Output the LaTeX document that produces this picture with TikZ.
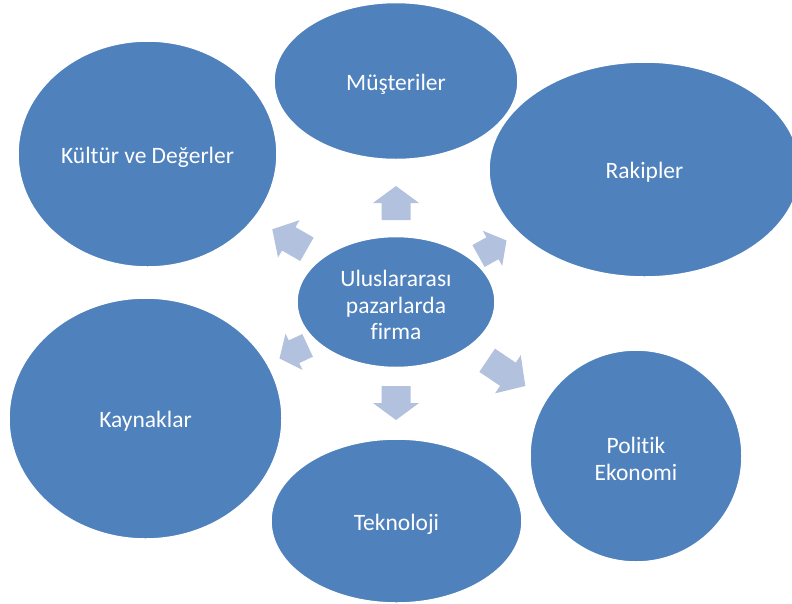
\documentclass[tikz,border=0pt]{standalone}
\usepackage{fontspec}
\setmainfont{Carlito}[Ligatures=NoCommon]
\definecolor{ovalblue}{HTML}{4F81BD}
\definecolor{arrowblue}{HTML}{B2C1DD}
\newcommand{\blockarrow}[7]{%
  % #1 name, #2 tip, #3 angle, #4 length, #5 head width, #6 shaft width, #7 head length
  \begin{scope}[shift={#2}, rotate=#3]
    \fill[arrowblue] (0,0) -- (-#7,#5/2) -- (-#7,#6/2) -- (-#4,#6/2)
      -- (-#4,-#6/2) -- (-#7,-#6/2) -- (-#7,-#5/2) -- cycle;
    \coordinate (#1) at (-#4/2,0);
  \end{scope}}
\usetikzlibrary{shapes.geometric}
\tikzset{
  ovaltext/.style={text=white, align=center, inner sep=0pt, yshift=-3pt,
    font=\fontsize{23.5}{26.3}\selectfont},
  oval/.style={ellipse, fill=ovalblue, draw=white, line width=1.5pt,
    inner sep=0pt, label={[ovaltext]center:#1}},
}
\begin{document}
\begin{tikzpicture}[x=1pt, y=-1pt]
\useasboundingbox (0,0) rectangle (792,603);
\fill[white] (0,0) rectangle (792,603);
% outer ovals
\node[oval={Müşteriler}, minimum width=244pt, minimum height=157pt] (mus) at (396,81) {};
\node[oval={Rakipler}, minimum width=311pt, minimum height=215pt] (rak) at (644.5,169.5) {};
\node[oval={Politik\\Ekonomi}, minimum width=212pt, minimum height=212pt] (pol) at (636,456) {};
\node[oval={Teknoloji}, minimum width=251pt, minimum height=164pt] (tek) at (396.5,521) {};
\node[oval={Kaynaklar}, minimum width=273pt, minimum height=241pt] (kay) at (145.5,418.5) {};
\node[oval={Kültür ve Değerler}, minimum width=259pt, minimum height=226pt] (kul) at (147.5,154) {};
% centre
\node[oval={Uluslararası\\pazarlarda\\firma}, minimum width=198pt, minimum height=131pt] (firm) at (396,302) {};
% arrows
\blockarrow{aup}{(396,186)}{90}{34}{46}{29}{17}
\blockarrow{adown}{(396,420)}{-90}{34}{46}{29}{17}
\blockarrow{aul}{(272.3,229.3)}{150}{40}{43}{27}{19}
\blockarrow{aur}{(506.5,240.5)}{29}{32}{40}{25}{16}
\blockarrow{all}{(279.5,358.5)}{205}{31}{40}{25}{16}
\blockarrow{alr}{(525.3,386)}{-34}{46}{46}{28}{21}
\end{tikzpicture}
\end{document}
